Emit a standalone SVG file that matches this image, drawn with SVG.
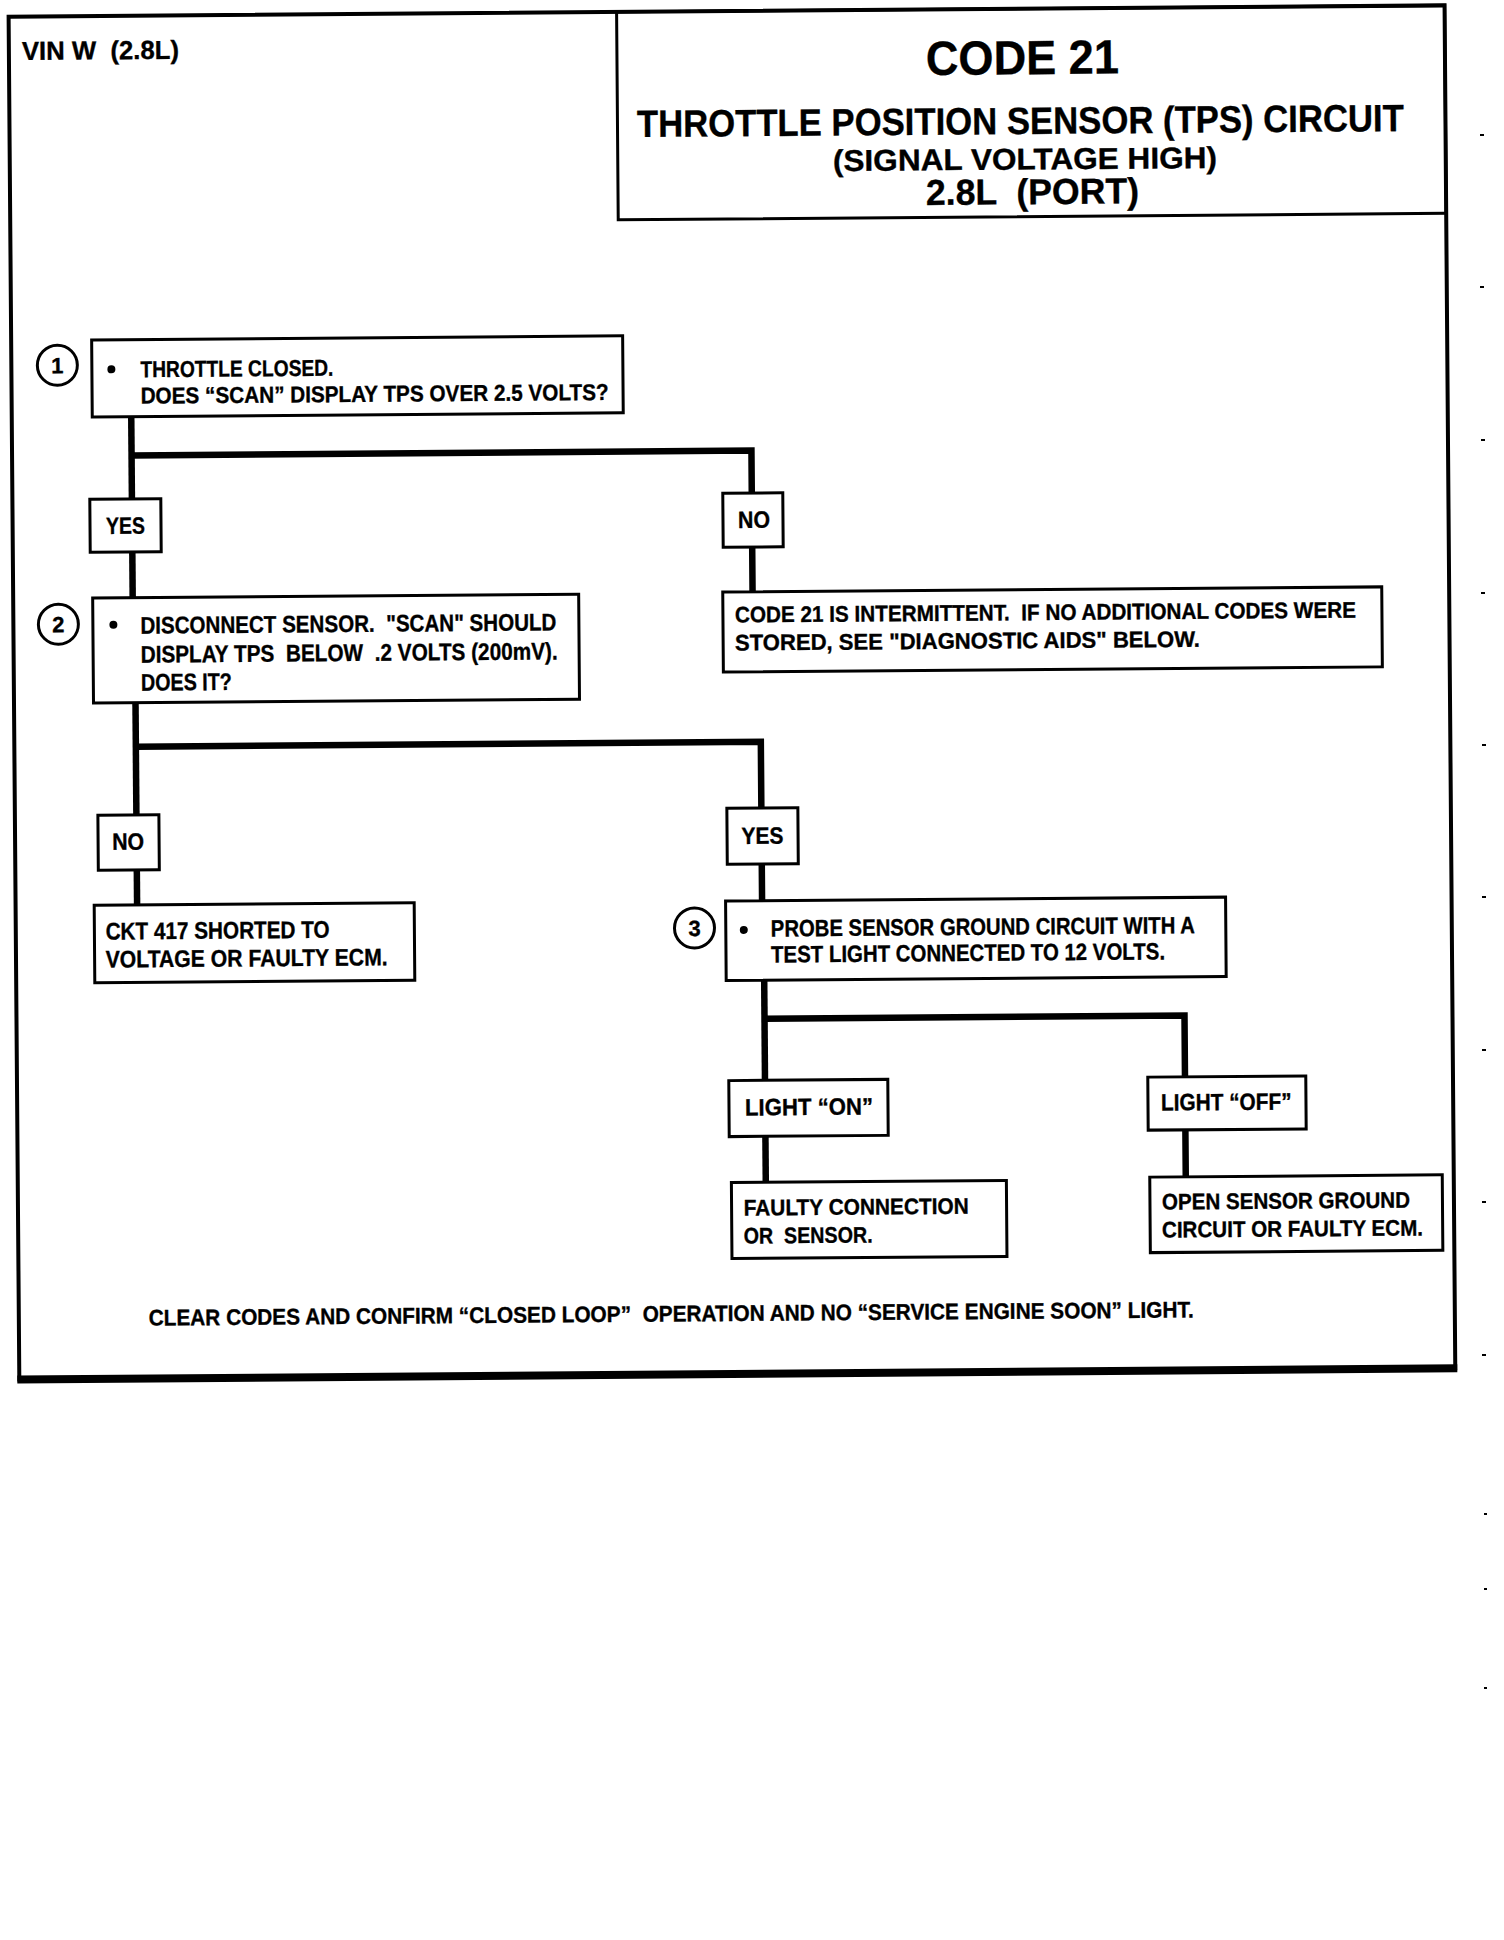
<svg xmlns="http://www.w3.org/2000/svg" width="1504" height="1940" viewBox="0 0 1504 1940">
<style>
.bx{fill:#fff;stroke:#000;stroke-width:3}
.cn{fill:none;stroke:#000;stroke-width:6.5;stroke-linejoin:miter;stroke-linecap:butt}
.ci{fill:#fff;stroke:#000;stroke-width:3}
.t{font-family:"Liberation Sans",Arial,Helvetica,sans-serif;font-weight:bold;fill:#000;white-space:pre;stroke:#000;stroke-width:0.35}
.s22{font-size:24px}
.s1{font-size:23px}
.s21{font-size:23.5px}
.s20{font-size:22.5px}
.sn{font-size:22px}
.m{text-anchor:middle}
.mk{fill:#000}
</style>
<rect x="0" y="0" width="1504" height="1940" fill="#fff"/>
<g id="scan-marks">
<rect class="mk" x="1480" y="134" width="4" height="2"/>
<rect class="mk" x="1480" y="286" width="4" height="2"/>
<rect class="mk" x="1481" y="439" width="4" height="2"/>
<rect class="mk" x="1481" y="592" width="4" height="2"/>
<rect class="mk" x="1482" y="744" width="4" height="2"/>
<rect class="mk" x="1482" y="896" width="4" height="2"/>
<rect class="mk" x="1482" y="1049" width="4" height="2"/>
<rect class="mk" x="1482" y="1201" width="4" height="2"/>
<rect class="mk" x="1482" y="1354" width="4" height="2"/>
<rect class="mk" x="1484" y="1513" width="3" height="2"/>
<rect class="mk" x="1484" y="1588" width="3" height="2"/>
<rect class="mk" x="1484" y="1687" width="3" height="2"/>
</g>
<g transform="rotate(-0.45 730 700)">
<g id="frame">
<rect x="14" y="11" width="1436" height="1363" fill="none" stroke="#000" stroke-width="4"/>
<line x1="12" y1="1374" x2="1452" y2="1374" stroke="#000" stroke-width="8"/>
</g>
<g id="vin">
<text class="t" x="27" y="54.4" font-size="26" textLength="157" lengthAdjust="spacingAndGlyphs">VIN W  (2.8L)</text>
</g>
<g id="title">
<rect x="622" y="11" width="828" height="208" fill="none" stroke="#000" stroke-width="3"/>
<text class="t" x="930.9" y="76.5" font-size="48" textLength="193" lengthAdjust="spacingAndGlyphs">CODE 21</text>
<text class="t" x="641.4" y="136.3" font-size="38" textLength="767" lengthAdjust="spacingAndGlyphs">THROTTLE POSITION SENSOR (TPS) CIRCUIT</text>
<text class="t" x="837.2" y="171.8" font-size="30" textLength="384" lengthAdjust="spacingAndGlyphs">(SIGNAL VOLTAGE HIGH)</text>
<text class="t" x="929.9" y="206.5" font-size="36" textLength="213" lengthAdjust="spacingAndGlyphs">2.8L  (PORT)</text>
</g>
<g id="connectors">
<path class="cn" d="M133.5 412 V593"/>
<path class="cn" d="M133.5 450.8 H753.4 V592"/>
<path class="cn" d="M135.5 698 V900.3"/>
<path class="cn" d="M135.5 742 H760.5 V901"/>
<path class="cn" d="M762 980.5 V1182.6"/>
<path class="cn" d="M762 1019 H1182 V1180.4"/>
</g>
<g id="step1">
<circle class="ci" cx="60" cy="360" r="20"/>
<text class="t sn m" x="60" y="368">1</text>
<rect class="bx" x="94.5" y="335" width="531" height="77"/>
<circle cx="114" cy="364.5" r="4"/>
<text class="t s1" x="143" y="372.6" textLength="193" lengthAdjust="spacingAndGlyphs">THROTTLE CLOSED.</text>
<text class="t s1" x="143" y="399" textLength="468" lengthAdjust="spacingAndGlyphs">DOES “SCAN” DISPLAY TPS OVER 2.5 VOLTS?</text>
</g>
<g id="yes1">
<rect class="bx" x="91.4" y="494.3" width="71" height="53"/>
<text class="t s21 m" x="126.9" y="529" textLength="39" lengthAdjust="spacingAndGlyphs">YES</text>
</g>
<g id="no1">
<rect class="bx" x="724.4" y="493.2" width="60" height="54"/>
<text class="t s21 m" x="755.4" y="528" textLength="32" lengthAdjust="spacingAndGlyphs">NO</text>
</g>
<g id="intermittent">
<rect class="bx" x="723.6" y="592" width="659" height="80"/>
<text class="t s20" x="735.6" y="622.5" textLength="621" lengthAdjust="spacingAndGlyphs">CODE 21 IS INTERMITTENT.  IF NO ADDITIONAL CODES WERE</text>
<text class="t s20" x="735.4" y="650.5" textLength="465" lengthAdjust="spacingAndGlyphs">STORED, SEE "DIAGNOSTIC AIDS" BELOW.</text>
</g>
<g id="step2">
<circle class="ci" cx="59" cy="619" r="20"/>
<text class="t sn m" x="59" y="627">2</text>
<rect class="bx" x="93.5" y="593" width="486" height="105"/>
<circle cx="114" cy="620" r="4"/>
<text class="t s22" x="141" y="629" textLength="416" lengthAdjust="spacingAndGlyphs">DISCONNECT SENSOR.  "SCAN" SHOULD</text>
<text class="t s22" x="141" y="658" textLength="417" lengthAdjust="spacingAndGlyphs">DISPLAY TPS  BELOW  .2 VOLTS (200mV).</text>
<text class="t s22" x="141" y="686" textLength="91" lengthAdjust="spacingAndGlyphs">DOES IT?</text>
</g>
<g id="no2">
<rect class="bx" x="97" y="810.3" width="61" height="55"/>
<text class="t s21 m" x="127" y="845" textLength="32" lengthAdjust="spacingAndGlyphs">NO</text>
</g>
<g id="ckt">
<rect class="bx" x="92.6" y="900.3" width="320" height="77.5"/>
<text class="t s22" x="103.8" y="934.6" textLength="224" lengthAdjust="spacingAndGlyphs">CKT 417 SHORTED TO</text>
<text class="t s22" x="103.6" y="962.6" textLength="282" lengthAdjust="spacingAndGlyphs">VOLTAGE OR FAULTY ECM.</text>
</g>
<g id="yes2">
<rect class="bx" x="726" y="808.3" width="71" height="56"/>
<text class="t s21 m" x="761.4" y="844" textLength="42" lengthAdjust="spacingAndGlyphs">YES</text>
</g>
<g id="step3">
<circle class="ci" cx="692.7" cy="927.7" r="20"/>
<text class="t sn m" x="692.7" y="935.7">3</text>
<rect class="bx" x="724" y="901" width="500" height="79.5"/>
<circle cx="742" cy="930" r="4"/>
<text class="t s21" x="769" y="936.8" textLength="424" lengthAdjust="spacingAndGlyphs">PROBE SENSOR GROUND CIRCUIT WITH A</text>
<text class="t s21" x="769" y="962.8" textLength="394" lengthAdjust="spacingAndGlyphs">TEST LIGHT CONNECTED TO 12 VOLTS.</text>
</g>
<g id="light-on">
<rect class="bx" x="725.8" y="1080.6" width="159" height="56"/>
<text class="t s21" x="741.8" y="1115.6" textLength="128" lengthAdjust="spacingAndGlyphs">LIGHT “ON”</text>
</g>
<g id="light-off">
<rect class="bx" x="1144.8" y="1080.4" width="158" height="53"/>
<text class="t s21" x="1157.8" y="1113.9" textLength="130.6" lengthAdjust="spacingAndGlyphs">LIGHT “OFF”</text>
</g>
<g id="faulty">
<rect class="bx" x="727.6" y="1182.6" width="275" height="76"/>
<text class="t s20" x="739.7" y="1215.6" textLength="225" lengthAdjust="spacingAndGlyphs">FAULTY CONNECTION</text>
<text class="t s20" x="739.4" y="1243.6" textLength="129" lengthAdjust="spacingAndGlyphs">OR  SENSOR.</text>
</g>
<g id="open-ground">
<rect class="bx" x="1146" y="1180.4" width="292.5" height="75.5"/>
<text class="t s20" x="1158" y="1212.9" textLength="248" lengthAdjust="spacingAndGlyphs">OPEN SENSOR GROUND</text>
<text class="t s20" x="1157.8" y="1240.9" textLength="261" lengthAdjust="spacingAndGlyphs">CIRCUIT OR FAULTY ECM.</text>
</g>
<g id="footer">
<text class="t s20" x="143.8" y="1321" textLength="1045" lengthAdjust="spacingAndGlyphs">CLEAR CODES AND CONFIRM “CLOSED LOOP”  OPERATION AND NO “SERVICE ENGINE SOON” LIGHT.</text>
</g>
</g>
</svg>
